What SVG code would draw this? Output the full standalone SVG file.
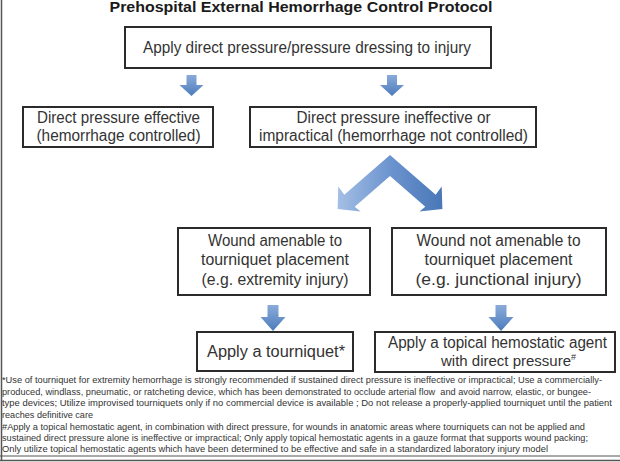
<svg xmlns="http://www.w3.org/2000/svg" width="620" height="462" viewBox="0 0 620 462">
<style>
.box{fill:#fff;stroke:#2b2b2b;stroke-width:2}
.t{font-family:"Liberation Sans",Arial,sans-serif;font-size:16px;fill:#333;text-anchor:middle}
.ttl{font-family:"Liberation Sans",Arial,sans-serif;font-size:14px;font-weight:bold;fill:#1a1a1a;text-anchor:middle}
.fn{font-family:"Liberation Sans",Arial,sans-serif;font-size:9px;fill:#333}
.frame{stroke:#555;fill:none}
</style>
<defs>
<linearGradient id="ga" x1="0" y1="0" x2="0" y2="1">
<stop offset="0" stop-color="#8aabda"/>
<stop offset="1" stop-color="#4c7cbc"/>
</linearGradient>
<linearGradient id="gc" gradientUnits="userSpaceOnUse" x1="336" y1="0" x2="444" y2="0">
<stop offset="0" stop-color="#a6c0e6"/>
<stop offset="0.5" stop-color="#6c94cf"/>
<stop offset="1" stop-color="#4876b6"/>
</linearGradient>
</defs>
<rect width="620" height="462" fill="#fff"/>
<g id="frame">
<line class="frame" x1="1.5" y1="0" x2="1.5" y2="461" stroke-width="1.5"/>
<line class="frame" x1="0" y1="456" x2="620" y2="456" stroke-width="1"/>
<line class="frame" x1="0" y1="460.5" x2="620" y2="460.5" stroke-width="1.5"/>
</g>
<text id="title" class="ttl" x="301" y="12" textLength="383" lengthAdjust="spacingAndGlyphs">Prehospital External Hemorrhage Control Protocol</text>
<g id="connectors">
<path d="M186.5,75 h10 v10 h7 l-12,11 l-12,-11 h7 z" fill="url(#ga)"/>
<path d="M387,75 h10 v10 h7 l-12,11 l-12,-11 h7 z" fill="url(#ga)"/>
<path d="M390,155 L435.7,194.7 L441.7,186.5 L442.4,209 L419.4,211.5 L425.3,206.7 L390,176 L354.7,206.7 L360.6,211.5 L337.6,209 L338.3,186.5 L344.3,194.7 Z" fill="url(#gc)"/>
<path d="M267.5,305 h11 v12 h7 l-12.5,14 l-12.5,-14 h7 z" fill="url(#ga)"/>
<path d="M495.5,305 h11 v12 h7 l-12.5,14 l-12.5,-14 h7 z" fill="url(#ga)"/>
</g>
<g id="n_start">
<rect class="box" x="125" y="27" width="366" height="41"/>
<text class="t" x="307" y="53" textLength="328" lengthAdjust="spacingAndGlyphs">Apply direct pressure/pressure dressing to injury</text>
</g>
<g id="n_effective">
<rect class="box" x="23" y="107" width="190" height="40"/>
<text class="t" x="118.5" y="123" textLength="163" lengthAdjust="spacingAndGlyphs">Direct pressure effective</text>
<text class="t" x="118.5" y="141" textLength="164" lengthAdjust="spacingAndGlyphs">(hemorrhage controlled)</text>
</g>
<g id="n_ineffective">
<rect class="box" x="250" y="107" width="286" height="40"/>
<text class="t" x="393.5" y="123" textLength="194" lengthAdjust="spacingAndGlyphs">Direct pressure ineffective or</text>
<text class="t" x="393.5" y="141" textLength="269" lengthAdjust="spacingAndGlyphs">impractical (hemorrhage not controlled)</text>
</g>
<g id="n_amenable">
<rect class="box" x="178" y="228" width="192" height="67"/>
<text class="t" x="275" y="245.5" textLength="134" lengthAdjust="spacingAndGlyphs">Wound amenable to</text>
<text class="t" x="275" y="265" textLength="148" lengthAdjust="spacingAndGlyphs">tourniquet placement</text>
<text class="t" x="275" y="284.5" textLength="147" lengthAdjust="spacingAndGlyphs">(e.g. extremity injury)</text>
</g>
<g id="n_not_amenable">
<rect class="box" x="392" y="228" width="214" height="67"/>
<text class="t" x="498.5" y="245.5" textLength="164" lengthAdjust="spacingAndGlyphs">Wound not amenable to</text>
<text class="t" x="498.5" y="265" textLength="148" lengthAdjust="spacingAndGlyphs">tourniquet placement</text>
<text class="t" x="498.5" y="284.5" textLength="166" lengthAdjust="spacingAndGlyphs">(e.g. junctional injury)</text>
</g>
<g id="n_tourniquet">
<rect class="box" x="197" y="332" width="156" height="39"/>
<text class="t" x="276" y="357" textLength="138" lengthAdjust="spacingAndGlyphs">Apply a tourniquet*</text>
</g>
<g id="n_hemostatic">
<rect class="box" x="375" y="332" width="240" height="40"/>
<text class="t" x="497.5" y="348" textLength="219" lengthAdjust="spacingAndGlyphs">Apply a topical hemostatic agent</text>
<text class="t" x="441" y="366" style="font-size:15px;text-anchor:start">with direct pressure<tspan style="font-size:9px" dy="-6">#</tspan></text>
</g>
<g id="footnotes">
<text class="fn" x="2" y="383" textLength="600" lengthAdjust="spacingAndGlyphs">*Use of tourniquet for extremity hemorrhage is strongly recommended if sustained direct pressure is ineffective or impractical; Use a commercially-</text>
<text class="fn" x="2" y="395" textLength="589" lengthAdjust="spacingAndGlyphs" style="white-space:pre">produced, windlass, pneumatic, or ratcheting device, which has been demonstrated to occlude arterial flow  and avoid narrow, elastic, or bungee-</text>
<text class="fn" x="2" y="406" textLength="610" lengthAdjust="spacingAndGlyphs">type devices; Utilize improvised tourniquets only if no commercial device is available ; Do not release a properly-applied tourniquet until the patient</text>
<text class="fn" x="2" y="418" textLength="91" lengthAdjust="spacingAndGlyphs">reaches definitive care</text>
<text class="fn" x="2" y="430" textLength="583" lengthAdjust="spacingAndGlyphs">#Apply a topical hemostatic agent, in combination with direct pressure, for wounds in anatomic areas where tourniquets can not be applied and</text>
<text class="fn" x="2" y="441" textLength="586" lengthAdjust="spacingAndGlyphs">sustained direct pressure alone is ineffective or impractical; Only apply topical hemostatic agents in a gauze format that supports wound packing;</text>
<text class="fn" x="2" y="452" textLength="546" lengthAdjust="spacingAndGlyphs">Only utilize topical hemostatic agents which have been determined to be effective and safe in a standardized laboratory injury model</text>
</g>
</svg>
